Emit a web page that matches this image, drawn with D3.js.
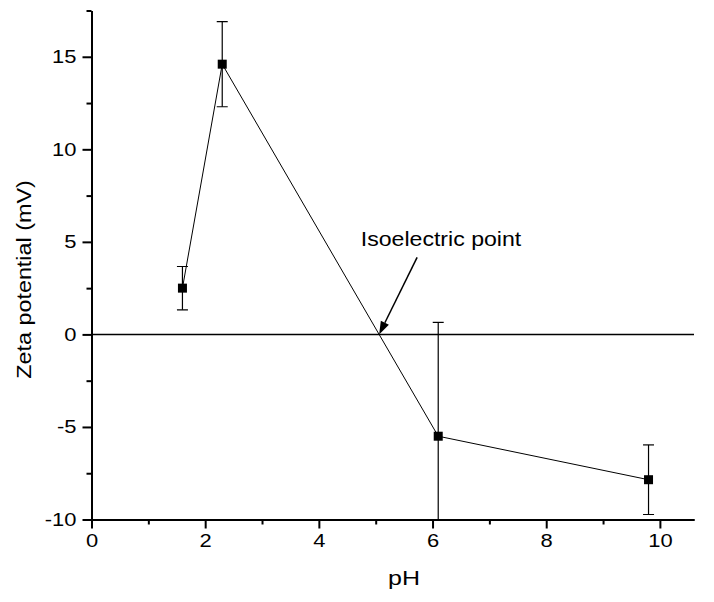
<!DOCTYPE html>
<html>
<head>
<meta charset="utf-8">
<script src="https://cdn.jsdelivr.net/npm/d3@7"></script>
<style>
  body { margin: 0; background: #fff; }
  text { font-family: "Liberation Sans", Arial, sans-serif; fill: #000; }
</style>
</head>
<body>
<div id="chart"></div>
<script>
// measured values
var ph = [1.6, 2.3, 6.1, 9.8];
var zeta = [2.5, 14.6, -5.5, -7.85];
var zetaErr = [1.17, 2.3, 6.15, 1.88];

var xTicks = [0, 2, 4, 6, 8, 10],
    xMinor = [1, 3, 5, 7, 9],
    yTicks = [-10, -5, 0, 5, 10, 15],
    yMinor = [-7.5, -2.5, 2.5, 7.5, 12.5, 17.5];

var width = 714,
    height = 602,
    mLeft = 91.5,
    mRight = 694,
    mTop = 10.5,
    mBottom = 519.5;

var x = d3.scaleLinear().domain([0, 10.6]).range([mLeft, mRight]);
var y = d3.scaleLinear().domain([-10, 17.5]).range([mBottom, mTop]);

var svg = d3.select('#chart').append('svg')
    .attr('width', width)
    .attr('height', height);

svg.append('defs').append('clipPath').attr('id', 'plot')
  .append('rect')
    .attr('x', mLeft).attr('y', mTop)
    .attr('width', mRight - mLeft).attr('height', mBottom - mTop);

// zero line
svg.append('line')
    .attr('x1', x(0)).attr('x2', x(10.6))
    .attr('y1', y(0)).attr('y2', y(0))
    .style('stroke', '#000').style('stroke-width', 1.5);

var pts = ph.map(function(d, i) { return {x: d, y: zeta[i], e: zetaErr[i]}; });

var plot = svg.append('g').attr('clip-path', 'url(#plot)');

// connecting line
plot.append('path')
    .datum(pts)
    .attr('d', d3.line().x(function(d) { return x(d.x); }).y(function(d) { return y(d.y); }))
    .style('fill', 'none').style('stroke', '#000').style('stroke-width', 1);

// error bars
var eb = plot.selectAll('g.err').data(pts).enter().append('g').attr('class', 'err')
    .style('stroke', '#000').style('stroke-width', 1.2);
eb.append('line')
    .attr('x1', function(d) { return x(d.x); }).attr('x2', function(d) { return x(d.x); })
    .attr('y1', function(d) { return y(d.y - d.e); }).attr('y2', function(d) { return y(d.y + d.e); });
eb.append('line')
    .attr('x1', function(d) { return x(d.x) - 5.5; }).attr('x2', function(d) { return x(d.x) + 5.5; })
    .attr('y1', function(d) { return y(d.y + d.e); }).attr('y2', function(d) { return y(d.y + d.e); });
eb.append('line')
    .attr('x1', function(d) { return x(d.x) - 5.5; }).attr('x2', function(d) { return x(d.x) + 5.5; })
    .attr('y1', function(d) { return y(d.y - d.e); }).attr('y2', function(d) { return y(d.y - d.e); });

// markers
plot.selectAll('rect.pt').data(pts).enter().append('rect').attr('class', 'pt')
    .attr('x', function(d) { return x(d.x) - 4.5; })
    .attr('y', function(d) { return y(d.y) - 4.5; })
    .attr('width', 9).attr('height', 9)
    .style('fill', '#000');

// axes
function styleAxis(g) {
  g.selectAll('path, line').style('stroke', '#000').style('stroke-width', 2);
  g.selectAll('text').style('font-size', '18px');
}
var plain = function(d) { return String(d); };

svg.append('g')
    .attr('transform', 'translate(0,' + mBottom + ')')
    .call(d3.axisBottom(x).tickValues(xMinor).tickFormat('').tickSize(5).tickSizeOuter(0))
    .call(styleAxis);
svg.append('g')
    .attr('transform', 'translate(0,' + mBottom + ')')
    .call(d3.axisBottom(x).tickValues(xTicks).tickFormat(plain).tickSize(9).tickSizeOuter(0).tickPadding(6))
    .call(styleAxis);

svg.append('g')
    .attr('transform', 'translate(' + mLeft + ',0)')
    .call(d3.axisLeft(y).tickValues(yMinor).tickFormat('').tickSize(5).tickSizeOuter(0))
    .call(styleAxis);
svg.append('g')
    .attr('transform', 'translate(' + mLeft + ',0)')
    .call(d3.axisLeft(y).tickValues(yTicks).tickFormat(plain).tickSize(9).tickSizeOuter(0).tickPadding(6))
    .call(styleAxis);

// widen tick labels a bit like the original
svg.selectAll('.tick text').each(function() {
  var t = d3.select(this);
  var tx = +t.attr('x') || 0, ty = +t.attr('y') || 0;
  t.attr('transform', 'translate(' + tx + ',' + ty + ') scale(1.22,1)')
   .attr('x', 0).attr('y', 0);
});

// axis titles
svg.append('text')
    .attr('transform', 'translate(404,585) scale(1.25,1)')
    .attr('text-anchor', 'middle')
    .style('font-size', '20px')
    .text('pH');

svg.append('text')
    .attr('transform', 'translate(31,279.5) rotate(-90) scale(1.14,1)')
    .attr('text-anchor', 'middle')
    .style('font-size', '20.5px')
    .text('Zeta potential (mV)');

// annotation
var i0 = 1, i1 = 2;
var xIso = ph[i0] + (0 - zeta[i0]) * (ph[i1] - ph[i0]) / (zeta[i1] - zeta[i0]);
var tipX = x(xIso), tipY = y(0);

svg.append('text')
    .attr('transform', 'translate(441,246) scale(1.1,1)')
    .attr('text-anchor', 'middle')
    .style('font-size', '21px')
    .text('Isoelectric point');

var sx = tipX + 38, sy = tipY - 77;
var ang = Math.atan2(tipY - sy, tipX - sx);
var hl = 13, hw = 4.5;
var bx = tipX - hl * Math.cos(ang), by = tipY - hl * Math.sin(ang);
svg.append('line')
    .attr('x1', sx).attr('y1', sy).attr('x2', bx).attr('y2', by)
    .style('stroke', '#000').style('stroke-width', 1.5);
svg.append('path')
    .attr('d', 'M' + tipX + ',' + tipY +
      'L' + (bx + hw * Math.sin(ang)) + ',' + (by - hw * Math.cos(ang)) +
      'L' + (bx - hw * Math.sin(ang)) + ',' + (by + hw * Math.cos(ang)) + 'Z')
    .style('fill', '#000');
</script>
</body>
</html>
